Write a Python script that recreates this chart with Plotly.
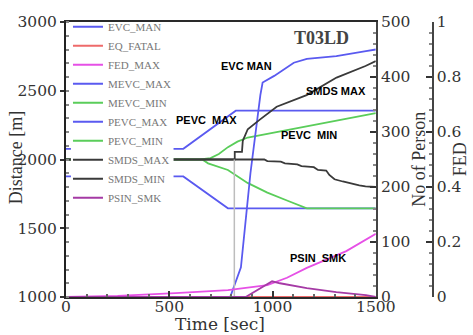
import plotly.graph_objects as go

# ---------------- data ----------------
# Distance axis series [m]
t_pevc_max = [0, 568, 822, 1500]
pevc_max = [2078, 2078, 2355, 2355]

t_mevc_max = [0, 568, 784, 1500]
mevc_max = [1877, 1877, 1645, 1645]

t_pevc_min = [0, 650, 700, 740, 784, 830, 880, 950, 1166, 1500]
pevc_min = [2000, 2000, 2010, 2040, 2090, 2130, 2160, 2180, 2243, 2338]

t_mevc_min = [0, 660, 688, 784, 879, 975, 1070, 1166, 1500]
mevc_min = [2000, 2000, 1972, 1924, 1830, 1759, 1702, 1645, 1645]

# No of Person axis series
t_evc_man = [0, 795, 847, 869, 893, 941, 952, 1008, 1103, 1166, 1309, 1452, 1500]
evc_man = [0, 0, 54, 137, 225, 367, 390, 402, 426, 433, 438, 447, 450]

t_smds_max = [0, 817, 817, 852, 856, 880, 940, 1020, 1165, 1310, 1450, 1500]
smds_max = [250, 250, 264, 264, 284, 305, 323, 346, 367, 399, 420, 429]

t_smds_start = [815, 815]
smds_start = [0, 250]

t_smds_min = [0, 960, 975, 1040, 1060, 1120, 1140, 1200, 1220, 1260, 1275,
              1300, 1340, 1380, 1420, 1450, 1500]
smds_min = [250, 250, 247, 246, 243, 241, 238, 236, 231, 230, 222,
            214, 210, 206, 203, 201, 200]

# FED axis series
t_eq_fatal = [0, 1500]
eq_fatal = [0, 0]

t_fed_max = [0, 250, 530, 784, 975, 1070, 1166, 1357, 1500]
fed_max = [0, 0.004, 0.014, 0.025, 0.043, 0.07, 0.106, 0.167, 0.23]

t_psin_smk = [0, 870, 998, 1036, 1166, 1309, 1452, 1500]
psin_smk = [0, 0, 0.057, 0.05, 0.032, 0.018, 0.007, 0]

x_ticks = [0, 500, 1000, 1500]
dist_ticks = [1000, 1500, 2000, 2500, 3000]
person_ticks = [0, 100, 200, 300, 400, 500]
fed_ticks = [0, 0.2, 0.4, 0.6, 0.8, 1]
fed_ticktext = ["0", "0.2", "0.4", "0.6", "0.8", "1"]

# ---------------- styling ----------------
BLUE = "#5a5af0"
GREEN = "#5acd5a"
BLACK = "#3a3a3a"
MAGENTA = "#e650e6"
PURPLE = "#a53aa5"
RED = "#ee6a6a"
SERIF = "Liberation Serif"
WSERIF = "DejaVu Serif"
SANS = "Liberation Sans"

fig = go.Figure()

def add(name, x, y, color, axis, width=1.8, showlegend=True):
    fig.add_trace(go.Scatter(x=x, y=y, name=name, mode="lines",
                             line=dict(color=color, width=width),
                             yaxis=axis, showlegend=showlegend))

# legend order follows the reference
add("EVC_MAN", t_evc_man, evc_man, BLUE, "y2")
add("EQ_FATAL", t_eq_fatal, eq_fatal, RED, "y3")
add("FED_MAX", t_fed_max, fed_max, MAGENTA, "y3")
add("MEVC_MAX", t_mevc_max, mevc_max, BLUE, "y")
add("MEVC_MIN", t_mevc_min, mevc_min, GREEN, "y")
add("PEVC_MAX", t_pevc_max, pevc_max, BLUE, "y")
add("PEVC_MIN", t_pevc_min, pevc_min, GREEN, "y")
add("SMDS_MAX", t_smds_max, smds_max, BLACK, "y2")
add("SMDS_MIN", t_smds_min, smds_min, BLACK, "y2")
add("PSIN_SMK", t_psin_smk, psin_smk, PURPLE, "y3")
add("SMDS_start", t_smds_start, smds_start, "#bdbdbd", "y2", width=1.5, showlegend=False)

tickfont = dict(family=WSERIF, size=15.5, color="#333")
L, R, T, B = 66, 33, 15, 38
W, H = 473, 335
pw = W - L - R
ph = H - T - B
xdom_end = (380 - L) / pw


def px_x(px):
    return (px - L) / pw


def px_y(py):
    return (H - B - py) / ph


fig.update_layout(
    width=W, height=H,
    margin=dict(l=L, r=R, t=T, b=B),
    paper_bgcolor="white", plot_bgcolor="white",
    showlegend=True,
    legend=dict(x=px_x(68), y=px_y(5), xanchor="left", yanchor="top",
                bgcolor="rgba(0,0,0,0)", borderwidth=0, maxheight=400,
                font=dict(family=SERIF, size=11, color="#777"),
                tracegroupgap=0, itemwidth=30),
    xaxis=dict(domain=[0, xdom_end], range=[0, 1500], tickvals=x_ticks,
               ticks="inside", ticklen=6, tickwidth=1.5, tickcolor="#333",
               minor=dict(dtick=100, ticks="inside", ticklen=3, tickcolor="#666"),
               showline=True, linewidth=2, linecolor="#2a2a2a", mirror=True,
               showgrid=False, zeroline=False, tickfont=tickfont,
               ticklabelstandoff=-6),
    yaxis=dict(range=[1000, 3000], tickvals=dist_ticks,
               ticks="outside", ticklen=4, tickwidth=1.5, tickcolor="#333",
               minor=dict(dtick=100, ticks="inside", ticklen=3, tickcolor="#888"),
               showline=True, linewidth=2, linecolor="#222",
               showgrid=False, zeroline=False, tickfont=tickfont),
    yaxis2=dict(range=[0, 500], tickvals=person_ticks, overlaying="y", side="right",
                anchor="x", ticks="inside", ticklen=6, tickwidth=1.5, tickcolor="#333",
                minor=dict(dtick=20, ticks="inside", ticklen=3, tickcolor="#888"),
                showline=True, linewidth=2, linecolor="#444",
                showgrid=False, zeroline=False, tickfont=tickfont),
    yaxis3=dict(range=[0, 1], tickvals=fed_ticks, ticktext=fed_ticktext,
                overlaying="y", side="right", anchor="free",
                position=(437.5 - L) / pw,
                ticks="inside", ticklen=6, tickwidth=1.5, tickcolor="#333",
                minor=dict(dtick=0.04, ticks="inside", ticklen=3, tickcolor="#888"),
                showline=True, linewidth=2, linecolor="#444",
                showgrid=False, zeroline=False, tickfont=tickfont),
)

# white legend background panel (hides the early flat parts of the lines, as in the reference)
fig.add_shape(type="rect", xref="paper", yref="paper", layer="above",
              x0=px_x(71), x1=px_x(175), y0=px_y(205), y1=px_y(16.5),
              fillcolor="white", line=dict(width=0))

titlefont = dict(family=SERIF, size=18, color="#333")
common = dict(xref="paper", yref="paper", showarrow=False, xanchor="center", yanchor="middle")
fig.add_annotation(text="Distance [m]", x=px_x(15), y=px_y(154), textangle=-90,
                   font=titlefont, **common)
fig.add_annotation(text="Time [sec]", x=px_x(222), y=px_y(325),
                   font=dict(family=WSERIF, size=17, color="#333"), **common)
fig.add_annotation(text="No of Person", x=px_x(423), y=px_y(156), textangle=-90,
                   font=titlefont, **common)
fig.add_annotation(text="FED", x=px_x(465), y=px_y(156), textangle=-90,
                   font=titlefont, **common)

# chart title inside plot
fig.add_annotation(text="<b>T03LD</b>", x=1237, y=2887, xref="x", yref="y",
                   showarrow=False, font=dict(family=SERIF, size=18, color="#444"))

# curve labels
labfont = dict(family=SANS, size=11, color="black")
labels = [("EVC MAN", 874, 2681), ("SMDS MAX", 1309, 2496), ("PEVC  MAX", 678, 2284),
          ("PEVC  MIN", 1175, 2177), ("PSIN  SMK", 1218, 1284)]
for txt, lx, ly in labels:
    fig.add_annotation(text="<b>" + txt + "</b>", x=lx, y=ly, xref="x", yref="y",
                       showarrow=False, font=labfont)

fig.write_html("out.html", config={"displayModeBar": False},
               post_script="document.body.style.margin='0';document.body.style.overflow='hidden';")
